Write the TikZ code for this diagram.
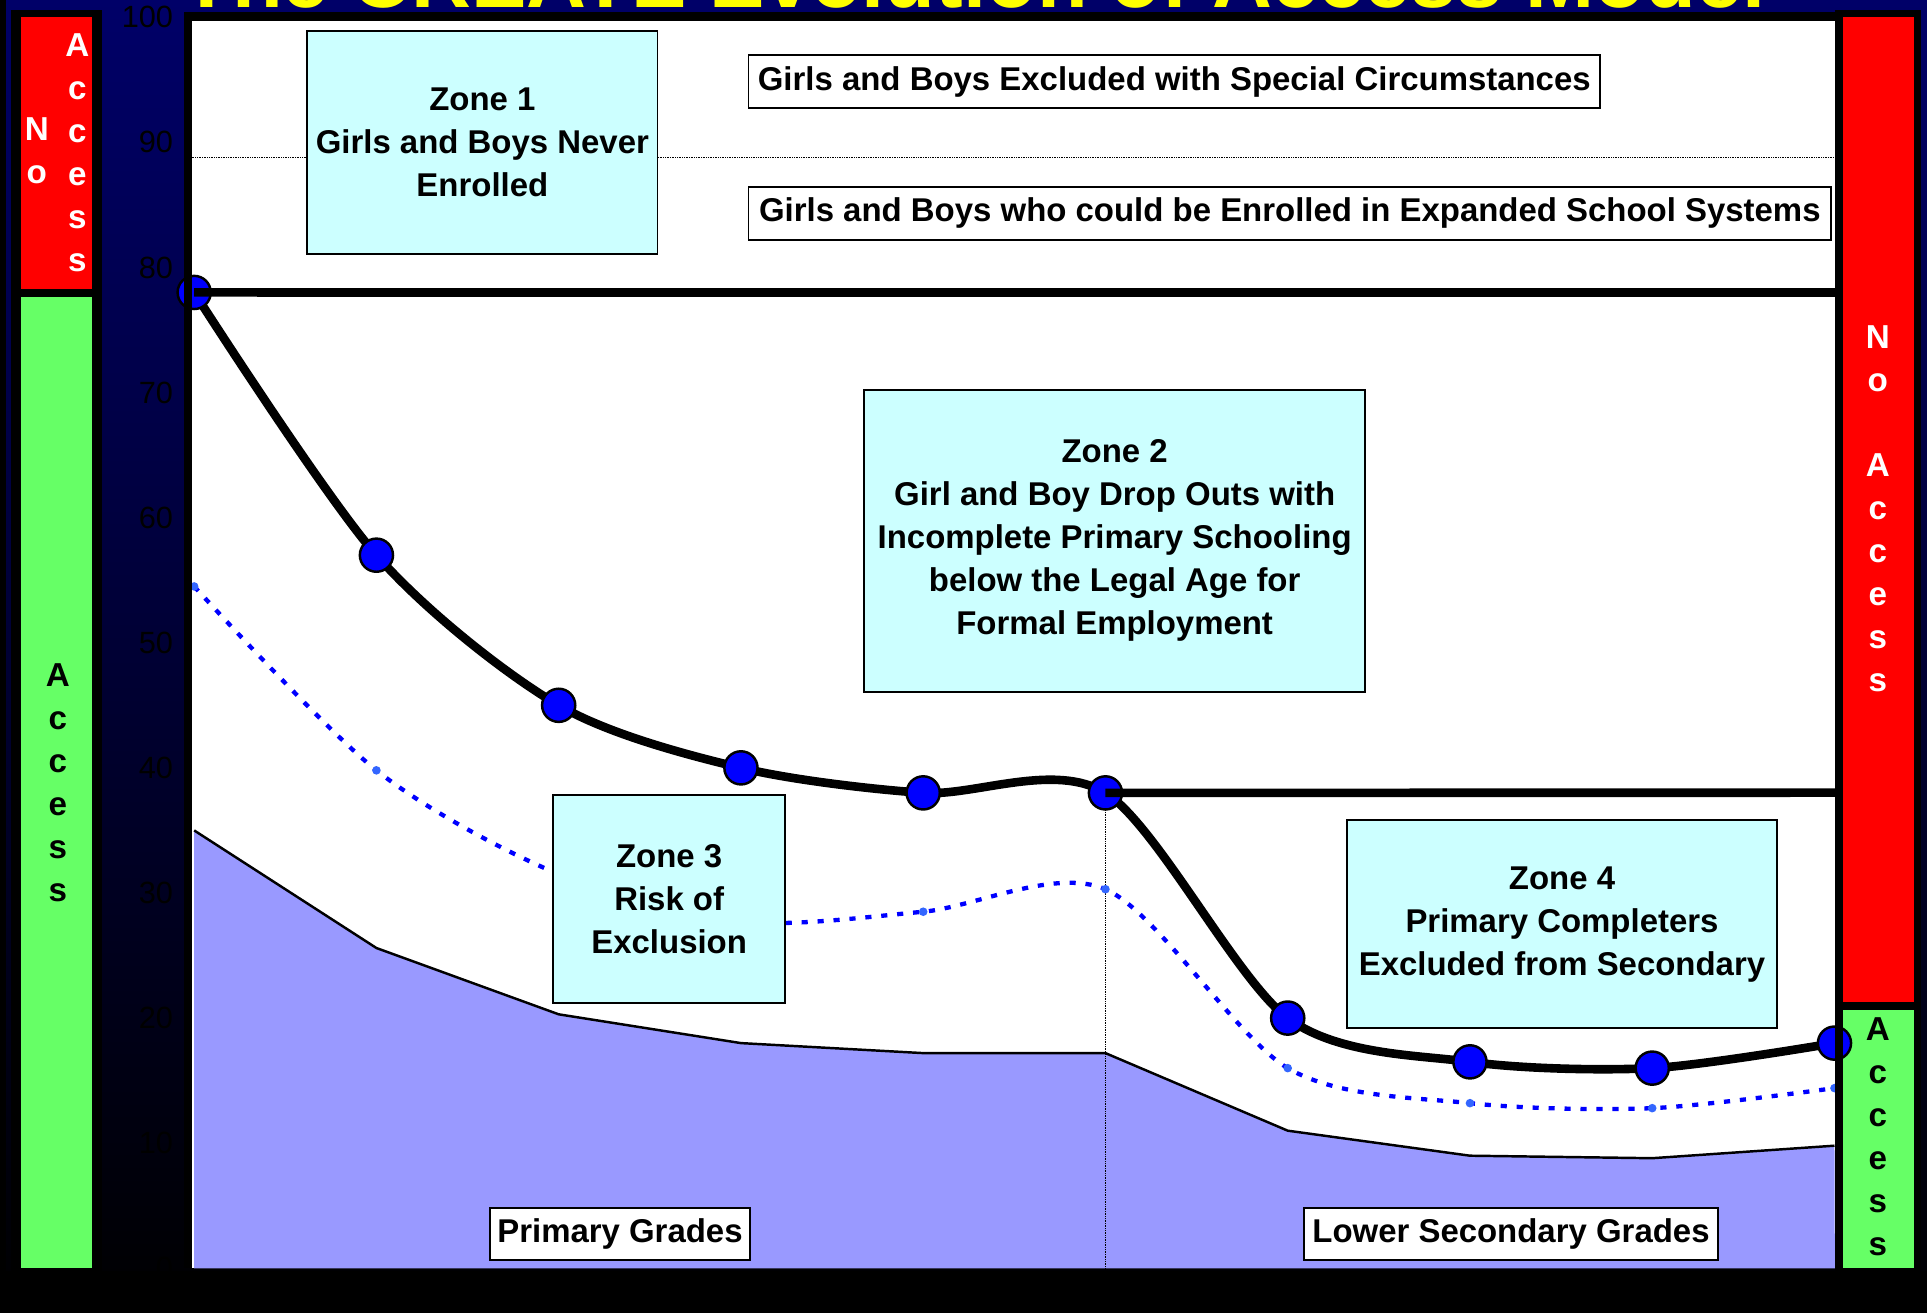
\documentclass[tikz,border=0pt]{standalone}
\usepackage{fontspec}
\setmainfont{Liberation Sans}

\definecolor{navy}{RGB}{0,0,104}
\definecolor{noaccess}{RGB}{255,0,0}
\definecolor{access}{RGB}{102,255,102}
\definecolor{zonefill}{RGB}{204,255,255}
\definecolor{riskfill}{RGB}{153,153,255}
\definecolor{markblue}{RGB}{0,0,255}
\definecolor{dotblue}{RGB}{51,102,255}
\definecolor{titleyellow}{RGB}{255,255,0}

\begin{document}
\begin{tikzpicture}[x=1pt, y=-1pt,
    zone/.style = {draw, fill=zonefill, line width=1.5pt, align=center, font=\bfseries\fontsize{26.8}{35}\selectfont},
    tag/.style = {draw, fill=white, line width=1.5pt, inner sep=0pt, minimum height=43pt, font=\bfseries\fontsize{26.8}{32}\selectfont},
    bigdot/.style = {circle, draw, fill=markblue, line width=2pt, minimum size=27pt, inner sep=0pt},
    smalldot/.style = {circle, fill=dotblue, minimum size=7pt, inner sep=0pt},
    barlabel/.style = {align=center, inner sep=0pt, font=\bfseries\fontsize{27}{35}\selectfont},
    ylab/.style = {anchor=east, inner sep=0pt, font=\fontsize{25}{25}\selectfont},
    thickline/.style = {line width=7pt},
    ]
    \useasboundingbox (0,0) rectangle (1568,1068);
    \clip (0,0) rectangle (1568,1068);

    % background
    \shade[top color=navy, bottom color=black] (0,0) rectangle (1568,1068);
    \fill[black] (0,1034) rectangle (1568,1068);
    \fill[black] (0,0) rectangle (5,1068);

    % title, cut off at the top
    \node[anchor=base, text=titleyellow, inner sep=0pt, font=\bfseries\fontsize{67.5}{70}\selectfont] (title) at (792,6) {The CREATE Evolution of Access Model};

    % access bars
    \fill[black] (9,8) rectangle (83,1036);
    \fill[noaccess] (17,14) rectangle (75,235);
    \fill[access] (17,242) rectangle (75,1032);
    \fill[black] (1493,8) rectangle (1563,1036);
    \fill[noaccess] (1500,14) rectangle (1557,815);
    \fill[access] (1500,822) rectangle (1557,1032);

    % plot area
    \fill[white] (156,17) rectangle (1493,1032);
    \draw[densely dotted, thin] (156,128) -- (1493,128);

    % data points
    \foreach \v [count=\i] in {78,57,45,40,38,38,20,16.5,16,18}
        \coordinate (m\i) at ({158+(\i-1)*148.3},{1032-10.18*\v});
    \foreach \v [count=\i] in {54.5,39.8,31.5,27.7,28.5,30.3,16,13.2,12.8,14.4}
        \coordinate (d\i) at ({158+(\i-1)*148.3},{1032-10.18*\v});
    \foreach \v [count=\i] in {35,25.6,20.3,18,17.2,17.2,11,9,8.8,9.8}
        \coordinate (a\i) at ({158+(\i-1)*148.3},{1032-10.18*\v});
    \coordinate (a0) at (158,1032);
    \coordinate (a11) at (1493,1032);
    \coordinate (base6) at (m6 |- a0);
    \coordinate (r78) at (1493,238);
    \coordinate (r38) at (1493,645);

    % risk area
    \fill[riskfill] (a0) -- (a1) -- (a2) -- (a3) -- (a4) -- (a5) -- (a6) -- (a7) -- (a8) -- (a9) -- (a10) -- (a11) -- cycle;
    \draw[line width=2pt] (a1) -- (a2) -- (a3) -- (a4) -- (a5) -- (a6) -- (a7) -- (a8) -- (a9) -- (a10);
    \draw[densely dotted, thin] (m6) -- (base6);

    % dotted curve
    \draw[markblue, line width=3.5pt, dash pattern=on 5pt off 8pt] plot[smooth, tension=0.5] coordinates {(d1) (d2) (d3) (d4) (d5) (d6) (d7) (d8) (d9) (d10)};
    \foreach \i in {1,...,10}
        \node[smalldot] (sd\i) at (d\i) {};

    % main curve
    \draw[line width=7pt] plot[smooth, tension=0.5] coordinates {(m1) (m2) (m3) (m4) (m5) (m6) (m7) (m8) (m9) (m10)};
    \foreach \i in {1,...,10}
        \node[bigdot] (dot\i) at (m\i) {};
    \draw[thickline] (m1) -- (r78);
    \draw[thickline] (m6) -- (r38);

    % zones
    \node[zone, minimum width=285pt, minimum height=182pt] (zone1) at (392.5,116) {Zone 1\\Girls and Boys Never\\Enrolled};
    \node[tag, minimum width=693pt] (special) at (955.5,66.5) {Girls and Boys Excluded with Special Circumstances};
    \node[tag, minimum width=881pt] (expanded) at (1049.5,173.5) {Girls and Boys who could be Enrolled in Expanded School Systems};
    \node[zone, minimum width=408pt, minimum height=246pt] (zone2) at (907,440) {Zone 2\\Girl and Boy Drop Outs with\\Incomplete Primary Schooling\\below the Legal Age for\\Formal Employment};
    \node[zone, minimum width=189pt, minimum height=169pt] (zone3) at (544.5,731.5) {Zone 3\\Risk of\\Exclusion};
    \node[zone, minimum width=350pt, minimum height=169pt] (zone4) at (1271,752) {Zone 4\\Primary Completers\\Excluded from Secondary};
    \node[tag, minimum width=211pt, minimum height=42pt] (primary) at (504.5,1004) {Primary Grades};
    \node[tag, minimum width=337pt, minimum height=42pt] (lowersec) at (1229.5,1004) {Lower Secondary Grades};

    % frame
    \fill[black] (1493,14) rectangle (1500,1034);
    \draw[line width=6pt] (153,11) -- (153,1032);
    \draw[line width=7pt] (150,13.5) -- (1497,13.5);

    % axis labels
    \foreach \v in {0,10,...,100}
        \node[ylab] (y\v) at (141,{1032-10.18*\v}) {\v};

    % bar labels
    \node[barlabel, white] (leftno) at (30,123) {N\\o};
    \node[barlabel, white] (leftnoacc) at (63,124) {A\\c\\c\\e\\s\\s};
    \node[barlabel] (leftacc) at (47,637) {A\\c\\c\\e\\s\\s};
    \node[barlabel, white] (rightno) at (1528,414) {N\\o\\[34pt]A\\c\\c\\e\\s\\s};
    \node[barlabel] (rightacc) at (1528,925) {A\\c\\c\\e\\s\\s};
\end{tikzpicture}
\end{document}
